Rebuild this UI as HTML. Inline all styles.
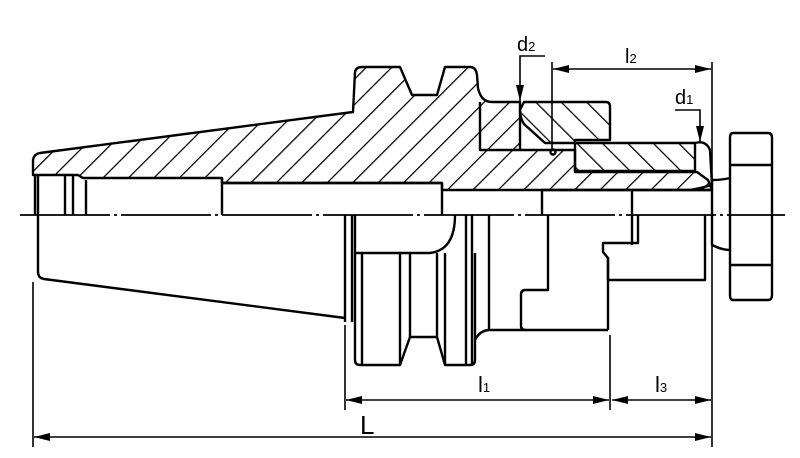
<!DOCTYPE html>
<html><head><meta charset="utf-8"><style>
html,body{margin:0;padding:0;background:#fff;}
svg{display:block;}
text{font-family:"Liberation Sans",Arial,sans-serif;fill:#000;}
</style></head><body>
<svg width="800" height="458" viewBox="0 0 800 458" xmlns="http://www.w3.org/2000/svg">
<defs>
<pattern id="h1" width="18" height="18" patternUnits="userSpaceOnUse" patternTransform="rotate(45)">
<line x1="0" y1="0" x2="0" y2="18" stroke="#000" stroke-width="2.5"/></pattern>
<pattern id="h2" width="18" height="18" patternUnits="userSpaceOnUse" patternTransform="rotate(-45)">
<line x1="0" y1="0" x2="0" y2="18" stroke="#000" stroke-width="2.5"/></pattern>
<marker id="a" viewBox="0 0 16 8" refX="16" refY="4" markerWidth="16" markerHeight="8" markerUnits="userSpaceOnUse" orient="auto-start-reverse">
<path d="M0,0 L16,4 L0,8 Z" fill="#000"/></marker>
</defs>
<g fill="none" stroke="#000" stroke-width="2.4" stroke-linejoin="round">
<path fill="url(#h1)" d="M33,175 L33,160 Q34,154 40,153 L353,112 L355,72 Q356,67 362,67 L400,67 L412,95 L437,95 L445,67 L470,67 Q476,67 477,75 L478,88 Q481,102 492,102 L520,102 L520,150 L480,150 L480,150 L575,150 L575,172 L697,172 L708,180 L712,190 L442,190 L442,183 L222,183 L222,178 L83,178 L78,175 Z"/>
<line x1="480" y1="102" x2="480" y2="150"/>
<path fill="url(#h2)" d="M524,102 L606,102 Q610,102 610,107 L610,140 L575,140 L575,143 L545,143 L524,124 Q520,118 520,110 Z"/>
<path fill="url(#h2)" d="M575,143 L695,143 L695,171 L575,171 Z"/>
<path d="M695,143 Q706,140 710,150 L712,185 L700,188 L690,190"/>
<circle cx="553" cy="152" r="2.5"/>
<line x1="35" y1="175" x2="35" y2="215"/><line x1="38" y1="175" x2="38" y2="215"/>
<line x1="65" y1="174" x2="65" y2="215"/><line x1="73" y1="174" x2="73" y2="215"/><line x1="86" y1="180" x2="86" y2="215"/>
<line x1="222" y1="178" x2="222" y2="215"/>
<line x1="222" y1="183" x2="442" y2="183"/>
<line x1="442" y1="183" x2="442" y2="215"/>
<path d="M542,215 L542,190 M632,190 L632,215 L632,245"/>
<line x1="542" y1="190" x2="712" y2="190"/>
<path d="M38,215 L38,272 Q38,278 44,279 L345,318"/>
<line x1="345" y1="215" x2="345" y2="322"/><line x1="352" y1="215" x2="352" y2="322"/>
<path d="M355,215 L355,253 L430,253 Q455,250 455,215"/>
<path d="M355,253 L355,360 Q355,365 360,365 L400,365 L410,337 L437,337 L445,365 L470,365 Q475,365 475,360 L475,253"/>
<line x1="362" y1="253" x2="362" y2="365"/>
<line x1="400" y1="253" x2="400" y2="365"/><line x1="410" y1="253" x2="410" y2="337"/>
<line x1="437" y1="253" x2="437" y2="337"/><line x1="445" y1="253" x2="445" y2="365"/>
<line x1="466" y1="215" x2="466" y2="365"/><line x1="472" y1="215" x2="472" y2="365"/>
<path d="M475,340 Q480,330 490,330 L608,330"/>
<line x1="489" y1="215" x2="489" y2="330"/>
<path d="M548,215 L548,290 L525,290 Q521,290 521,295 L521,326 Q521,330 526,330"/>
<path d="M608,330 L608,258 L603,252 L603,243 L638,243 L638,215"/>
<path d="M608,258 L608,280 L705,280 L705,215"/>
<path d="M712,190 L712,245 Q722,250 730,250 M712,190 L712,180 Q722,180 730,178"/>
<path d="M733,133 L768,133 Q772,133 772,138 L772,295 Q772,300 768,300 L733,300 Q730,300 730,295 L730,138 Q730,133 733,133 Z"/>
<line x1="730" y1="165" x2="772" y2="165"/><line x1="730" y1="265" x2="772" y2="265"/>
</g>
<line x1="20" y1="215" x2="785" y2="215" stroke="#000" stroke-width="1.8" stroke-dasharray="90,4,3,4"/>
<g stroke="#000" stroke-width="1.6" fill="none">
<line x1="33" y1="282" x2="33" y2="447"/>
<line x1="712" y1="62" x2="712" y2="447"/>
<line x1="345" y1="325" x2="345" y2="410"/>
<line x1="610" y1="335" x2="610" y2="410"/>
<line x1="552" y1="62" x2="552" y2="150"/>
<line x1="34" y1="437" x2="711" y2="437" marker-start="url(#a)" marker-end="url(#a)"/>
<line x1="346" y1="400" x2="609" y2="400" marker-start="url(#a)" marker-end="url(#a)"/>
<line x1="612" y1="400" x2="711" y2="400" marker-start="url(#a)" marker-end="url(#a)"/>
<line x1="553" y1="69" x2="711" y2="69" marker-start="url(#a)" marker-end="url(#a)"/>
<path d="M545,56 L520,56 L520,101" marker-end="url(#a)"/>
<path d="M675,110 L700,110 L700,142" marker-end="url(#a)"/>
</g>
<text x="360" y="434" font-size="26">L</text>
<text x="478" y="392" font-size="22">l<tspan font-size="13">1</tspan></text>
<text x="655" y="392" font-size="22">l<tspan font-size="13">3</tspan></text>
<text x="625" y="63" font-size="20">l<tspan font-size="13">2</tspan></text>
<text x="517" y="51" font-size="20">d<tspan font-size="13">2</tspan></text>
<text x="675" y="104" font-size="20">d<tspan font-size="13">1</tspan></text>
</svg>
</body></html>
